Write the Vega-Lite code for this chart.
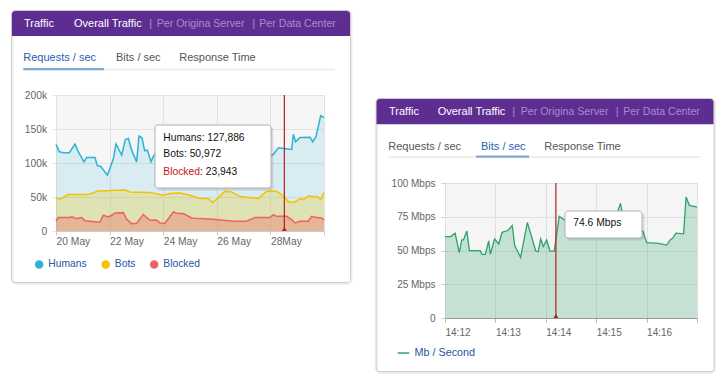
{
"$schema": "https://vega.github.io/schema/vega-lite/v6.json",
"padding": 0,
"autosize": {"type": "pad"},
"background": "white",
"config": {"view": {"stroke": null}, "font": "Liberation Sans"},
"datasets": {
"one": [{}],
"cursorL": [{"t": "2019-05-28T12:30"}],
"cursorR": [{"t": "2019-05-28T14:14:12"}],
"traffic": [
{"t":"2019-05-20T00:00","s":"Humans","v":127300},
{"t":"2019-05-20T03:00","s":"Humans","v":116500},
{"t":"2019-05-20T06:35","s":"Humans","v":115000},
{"t":"2019-05-20T12:00","s":"Humans","v":115200},
{"t":"2019-05-20T17:00","s":"Humans","v":127800},
{"t":"2019-05-20T20:00","s":"Humans","v":116400},
{"t":"2019-05-21T01:05","s":"Humans","v":101700},
{"t":"2019-05-21T03:28","s":"Humans","v":108000},
{"t":"2019-05-21T10:55","s":"Humans","v":108100},
{"t":"2019-05-21T13:00","s":"Humans","v":95800},
{"t":"2019-05-21T16:00","s":"Humans","v":95300},
{"t":"2019-05-21T22:00","s":"Humans","v":82000},
{"t":"2019-05-22T01:00","s":"Humans","v":95200},
{"t":"2019-05-22T03:20","s":"Humans","v":105700},
{"t":"2019-05-22T05:44","s":"Humans","v":127900},
{"t":"2019-05-22T10:50","s":"Humans","v":111500},
{"t":"2019-05-22T14:05","s":"Humans","v":134600},
{"t":"2019-05-22T16:47","s":"Humans","v":136000},
{"t":"2019-05-22T19:45","s":"Humans","v":118900},
{"t":"2019-05-23T00:14","s":"Humans","v":101700},
{"t":"2019-05-23T02:20","s":"Humans","v":139600},
{"t":"2019-05-23T05:00","s":"Humans","v":137000},
{"t":"2019-05-23T07:24","s":"Humans","v":117900},
{"t":"2019-05-23T09:48","s":"Humans","v":118900},
{"t":"2019-05-23T13:05","s":"Humans","v":101700},
{"t":"2019-05-23T15:46","s":"Humans","v":111500},
{"t":"2019-05-23T22:00","s":"Humans","v":120000},
{"t":"2019-05-24T06:00","s":"Humans","v":112000},
{"t":"2019-05-24T14:00","s":"Humans","v":126000},
{"t":"2019-05-24T22:00","s":"Humans","v":108000},
{"t":"2019-05-25T06:00","s":"Humans","v":118000},
{"t":"2019-05-25T14:00","s":"Humans","v":104000},
{"t":"2019-05-25T22:00","s":"Humans","v":114000},
{"t":"2019-05-26T06:00","s":"Humans","v":122000},
{"t":"2019-05-26T14:00","s":"Humans","v":109000},
{"t":"2019-05-26T22:00","s":"Humans","v":116000},
{"t":"2019-05-27T06:00","s":"Humans","v":104000},
{"t":"2019-05-27T14:00","s":"Humans","v":113000},
{"t":"2019-05-27T20:00","s":"Humans","v":107000},
{"t":"2019-05-28T02:37","s":"Humans","v":112500},
{"t":"2019-05-28T07:06","s":"Humans","v":122400},
{"t":"2019-05-28T11:35","s":"Humans","v":121400},
{"t":"2019-05-28T19:03","s":"Humans","v":119900},
{"t":"2019-05-28T20:33","s":"Humans","v":142000},
{"t":"2019-05-28T22:38","s":"Humans","v":131200},
{"t":"2019-05-29T02:30","s":"Humans","v":137600},
{"t":"2019-05-29T11:28","s":"Humans","v":137700},
{"t":"2019-05-29T13:51","s":"Humans","v":131200},
{"t":"2019-05-29T16:50","s":"Humans","v":138600},
{"t":"2019-05-29T21:00","s":"Humans","v":169500},
{"t":"2019-05-30T00:00","s":"Humans","v":166600},
{"t":"2019-05-20T00:00","s":"Bots","v":48600},
{"t":"2019-05-20T03:35","s":"Bots","v":46700},
{"t":"2019-05-20T11:03","s":"Bots","v":53600},
{"t":"2019-05-21T04:57","s":"Bots","v":53600},
{"t":"2019-05-21T13:55","s":"Bots","v":59000},
{"t":"2019-05-22T13:48","s":"Bots","v":60400},
{"t":"2019-05-22T18:16","s":"Bots","v":57500},
{"t":"2019-05-23T12:10","s":"Bots","v":56500},
{"t":"2019-05-24T00:07","s":"Bots","v":52600},
{"t":"2019-05-24T06:06","s":"Bots","v":55000},
{"t":"2019-05-24T15:03","s":"Bots","v":56000},
{"t":"2019-05-25T00:00","s":"Bots","v":52600},
{"t":"2019-05-25T08:57","s":"Bots","v":47700},
{"t":"2019-05-25T16:25","s":"Bots","v":47700},
{"t":"2019-05-25T20:18","s":"Bots","v":41800},
{"t":"2019-05-26T01:22","s":"Bots","v":49100},
{"t":"2019-05-26T07:20","s":"Bots","v":58500},
{"t":"2019-05-26T13:19","s":"Bots","v":57500},
{"t":"2019-05-26T20:47","s":"Bots","v":50600},
{"t":"2019-05-27T13:12","s":"Bots","v":47700},
{"t":"2019-05-27T20:40","s":"Bots","v":58500},
{"t":"2019-05-28T05:37","s":"Bots","v":58500},
{"t":"2019-05-28T13:05","s":"Bots","v":50100},
{"t":"2019-05-28T16:03","s":"Bots","v":42800},
{"t":"2019-05-28T22:02","s":"Bots","v":42800},
{"t":"2019-05-29T02:30","s":"Bots","v":47700},
{"t":"2019-05-29T05:29","s":"Bots","v":46200},
{"t":"2019-05-29T09:58","s":"Bots","v":51600},
{"t":"2019-05-29T18:56","s":"Bots","v":50100},
{"t":"2019-05-29T21:00","s":"Bots","v":46200},
{"t":"2019-05-30T00:00","s":"Bots","v":56500},
{"t":"2019-05-20T00:00","s":"Blocked","v":14700},
{"t":"2019-05-20T02:05","s":"Blocked","v":19700},
{"t":"2019-05-20T12:32","s":"Blocked","v":19700},
{"t":"2019-05-20T14:02","s":"Blocked","v":21100},
{"t":"2019-05-20T18:30","s":"Blocked","v":18200},
{"t":"2019-05-20T22:59","s":"Blocked","v":19700},
{"t":"2019-05-21T01:58","s":"Blocked","v":15200},
{"t":"2019-05-21T15:24","s":"Blocked","v":12800},
{"t":"2019-05-21T18:23","s":"Blocked","v":23100},
{"t":"2019-05-21T22:52","s":"Blocked","v":20600},
{"t":"2019-05-22T01:51","s":"Blocked","v":23100},
{"t":"2019-05-22T04:50","s":"Blocked","v":26500},
{"t":"2019-05-22T12:17","s":"Blocked","v":27000},
{"t":"2019-05-22T15:16","s":"Blocked","v":17200},
{"t":"2019-05-22T19:45","s":"Blocked","v":10800},
{"t":"2019-05-23T00:14","s":"Blocked","v":11300},
{"t":"2019-05-23T06:13","s":"Blocked","v":24100},
{"t":"2019-05-23T12:10","s":"Blocked","v":15700},
{"t":"2019-05-23T18:09","s":"Blocked","v":16200},
{"t":"2019-05-23T21:08","s":"Blocked","v":11800},
{"t":"2019-05-24T01:37","s":"Blocked","v":11300},
{"t":"2019-05-24T09:04","s":"Blocked","v":28000},
{"t":"2019-05-24T13:33","s":"Blocked","v":25600},
{"t":"2019-05-24T18:01","s":"Blocked","v":25600},
{"t":"2019-05-25T01:29","s":"Blocked","v":19200},
{"t":"2019-05-25T08:57","s":"Blocked","v":18200},
{"t":"2019-05-25T20:54","s":"Blocked","v":17200},
{"t":"2019-05-26T05:51","s":"Blocked","v":15700},
{"t":"2019-05-26T14:48","s":"Blocked","v":14300},
{"t":"2019-05-27T02:44","s":"Blocked","v":14300},
{"t":"2019-05-27T10:12","s":"Blocked","v":19700},
{"t":"2019-05-27T23:38","s":"Blocked","v":19700},
{"t":"2019-05-28T02:37","s":"Blocked","v":24100},
{"t":"2019-05-28T05:37","s":"Blocked","v":21600},
{"t":"2019-05-28T14:34","s":"Blocked","v":21600},
{"t":"2019-05-28T19:03","s":"Blocked","v":16700},
{"t":"2019-05-28T22:02","s":"Blocked","v":11800},
{"t":"2019-05-29T02:30","s":"Blocked","v":14300},
{"t":"2019-05-29T09:58","s":"Blocked","v":14300},
{"t":"2019-05-29T12:57","s":"Blocked","v":21600},
{"t":"2019-05-29T17:25","s":"Blocked","v":19700},
{"t":"2019-05-29T21:55","s":"Blocked","v":19200},
{"t":"2019-05-30T00:00","s":"Blocked","v":15700}
],
"mbps": [
{"t":"2019-05-28T14:12:00","s":"Mb / Second","v":60.3},
{"t":"2019-05-28T14:12:07","s":"Mb / Second","v":60.3},
{"t":"2019-05-28T14:12:12","s":"Mb / Second","v":62.8},
{"t":"2019-05-28T14:12:17","s":"Mb / Second","v":48.4},
{"t":"2019-05-28T14:12:20","s":"Mb / Second","v":57.8},
{"t":"2019-05-28T14:12:22","s":"Mb / Second","v":57.8},
{"t":"2019-05-28T14:12:26","s":"Mb / Second","v":64.5},
{"t":"2019-05-28T14:12:29","s":"Mb / Second","v":49.9},
{"t":"2019-05-28T14:12:42","s":"Mb / Second","v":49.9},
{"t":"2019-05-28T14:12:44","s":"Mb / Second","v":47.1},
{"t":"2019-05-28T14:12:48","s":"Mb / Second","v":47.1},
{"t":"2019-05-28T14:12:52","s":"Mb / Second","v":57.1},
{"t":"2019-05-28T14:12:54","s":"Mb / Second","v":47.1},
{"t":"2019-05-28T14:12:59","s":"Mb / Second","v":58.6},
{"t":"2019-05-28T14:13:04","s":"Mb / Second","v":54.8},
{"t":"2019-05-28T14:13:08","s":"Mb / Second","v":63.5},
{"t":"2019-05-28T14:13:15","s":"Mb / Second","v":64.8},
{"t":"2019-05-28T14:13:20","s":"Mb / Second","v":68.5},
{"t":"2019-05-28T14:13:23","s":"Mb / Second","v":53.6},
{"t":"2019-05-28T14:13:30","s":"Mb / Second","v":44.9},
{"t":"2019-05-28T14:13:38","s":"Mb / Second","v":70.7},
{"t":"2019-05-28T14:13:44","s":"Mb / Second","v":58.3},
{"t":"2019-05-28T14:13:48","s":"Mb / Second","v":49.6},
{"t":"2019-05-28T14:13:51","s":"Mb / Second","v":49.1},
{"t":"2019-05-28T14:13:54","s":"Mb / Second","v":58.6},
{"t":"2019-05-28T14:13:57","s":"Mb / Second","v":52.9},
{"t":"2019-05-28T14:14:01","s":"Mb / Second","v":57.8},
{"t":"2019-05-28T14:14:05","s":"Mb / Second","v":49.6},
{"t":"2019-05-28T14:14:10","s":"Mb / Second","v":49.6},
{"t":"2019-05-28T14:14:16","s":"Mb / Second","v":75.2},
{"t":"2019-05-28T14:14:22","s":"Mb / Second","v":72.7},
{"t":"2019-05-28T14:14:30","s":"Mb / Second","v":71},
{"t":"2019-05-28T14:14:38","s":"Mb / Second","v":75},
{"t":"2019-05-28T14:14:46","s":"Mb / Second","v":69},
{"t":"2019-05-28T14:14:54","s":"Mb / Second","v":73},
{"t":"2019-05-28T14:15:02","s":"Mb / Second","v":67},
{"t":"2019-05-28T14:15:10","s":"Mb / Second","v":71},
{"t":"2019-05-28T14:15:18","s":"Mb / Second","v":74},
{"t":"2019-05-28T14:15:25","s":"Mb / Second","v":78},
{"t":"2019-05-28T14:15:29","s":"Mb / Second","v":85},
{"t":"2019-05-28T14:15:31","s":"Mb / Second","v":77},
{"t":"2019-05-28T14:15:40","s":"Mb / Second","v":71},
{"t":"2019-05-28T14:15:48","s":"Mb / Second","v":67},
{"t":"2019-05-28T14:15:56","s":"Mb / Second","v":64},
{"t":"2019-05-28T14:16:00","s":"Mb / Second","v":55.8},
{"t":"2019-05-28T14:16:14","s":"Mb / Second","v":55.3},
{"t":"2019-05-28T14:16:24","s":"Mb / Second","v":54},
{"t":"2019-05-28T14:16:28","s":"Mb / Second","v":57.8},
{"t":"2019-05-28T14:16:31","s":"Mb / Second","v":59},
{"t":"2019-05-28T14:16:35","s":"Mb / Second","v":62.8},
{"t":"2019-05-28T14:16:44","s":"Mb / Second","v":62.3},
{"t":"2019-05-28T14:16:47","s":"Mb / Second","v":89.6},
{"t":"2019-05-28T14:16:51","s":"Mb / Second","v":83.4},
{"t":"2019-05-28T14:17:00","s":"Mb / Second","v":82.1}
]
},
"spacing": 121,
"bounds": "flush",
"resolve": {"scale": {"x": "independent", "y": "independent", "fill": "independent", "stroke": "independent", "fillOpacity": "independent"}, "legend": {"fill": "independent", "stroke": "independent"}},
"hconcat": [
{
"width": 268, "height": 136,
"view": {"fill": "#f6f6f6", "stroke": null},
"layer": [
{"data": {"name": "one"}, "mark": {"type": "rect", "x": -56, "x2": 672, "y": -95, "y2": 285, "opacity": 0}},
{"data": {"name": "one"}, "mark": {"type": "rect", "x": -43.5, "x2": 295.5, "y": -83.5, "y2": 189, "fill": "transparent", "stroke": "#000000", "strokeOpacity": 0.07, "strokeWidth": 2, "cornerRadius": 4}},
{"data": {"name": "one"}, "mark": {"type": "rect", "x": -44.5, "x2": 294.5, "y": -84.5, "y2": 187.5, "fill": "transparent", "stroke": "#cdcdcd", "strokeWidth": 1, "cornerRadius": 3}},
{"data": {"name": "one"}, "mark": {"type": "rect", "x": -44, "x2": 294, "y": -84, "y2": -59, "fill": "#5e2d91", "cornerRadiusTopLeft": 3, "cornerRadiusTopRight": 3}},
{"data": {"name": "one"}, "mark": {"type": "text", "text": "Traffic", "x": -32, "y": -71.5, "align": "left", "baseline": "middle", "fontSize": 11, "color": "#ffffff", "font": "Liberation Sans"}},
{"data": {"name": "one"}, "mark": {"type": "text", "text": "Overall Traffic", "x": 18, "y": -71.5, "align": "left", "baseline": "middle", "fontSize": 11, "color": "#ffffff", "font": "Liberation Sans"}},
{"data": {"name": "one"}, "mark": {"type": "text", "text": "|", "x": 93.3, "y": -71.5, "align": "left", "baseline": "middle", "fontSize": 11, "color": "#a58dcc", "font": "Liberation Sans"}},
{"data": {"name": "one"}, "mark": {"type": "text", "text": "Per Origina Server", "x": 100.7, "y": -71.5, "align": "left", "baseline": "middle", "fontSize": 10.6, "color": "#a58dcc", "font": "Liberation Sans"}},
{"data": {"name": "one"}, "mark": {"type": "text", "text": "|", "x": 196.3, "y": -71.5, "align": "left", "baseline": "middle", "fontSize": 11, "color": "#a58dcc", "font": "Liberation Sans"}},
{"data": {"name": "one"}, "mark": {"type": "text", "text": "Per Data Center", "x": 203.3, "y": -71.5, "align": "left", "baseline": "middle", "fontSize": 10.6, "color": "#a58dcc", "font": "Liberation Sans"}},
{"data": {"name": "one"}, "mark": {"type": "text", "text": "Requests / sec", "x": -32.7, "y": -36.7, "align": "left", "baseline": "middle", "fontSize": 11, "color": "#2b5fae", "font": "Liberation Sans"}},
{"data": {"name": "one"}, "mark": {"type": "text", "text": "Bits / sec", "x": 60, "y": -36.7, "align": "left", "baseline": "middle", "fontSize": 11, "color": "#555555", "font": "Liberation Sans"}},
{"data": {"name": "one"}, "mark": {"type": "text", "text": "Response Time", "x": 123.3, "y": -36.7, "align": "left", "baseline": "middle", "fontSize": 11, "color": "#555555", "font": "Liberation Sans"}},
{"data": {"name": "one"}, "mark": {"type": "rect", "x": -32.7, "x2": 279, "y": -26.5, "y2": -24.5, "fill": "#eeeeee"}},
{"data": {"name": "one"}, "mark": {"type": "rect", "x": -32.7, "x2": 48, "y": -27, "y2": -24.8, "fill": "#82a9d4"}},
{"data": {"name": "traffic"}, "mark": {"type": "area"},
 "encoding": {
  "x": {"field": "t", "type": "temporal",
        "scale": {"domain": [{"year": 2019, "month": 5, "date": 20}, {"year": 2019, "month": 5, "date": 30}], "nice": false},
        "axis": {"title": null, "values": [{"year": 2019, "month": 5, "date": 20}, {"year": 2019, "month": 5, "date": 22}, {"year": 2019, "month": 5, "date": 24}, {"year": 2019, "month": 5, "date": 26}, {"year": 2019, "month": 5, "date": 28}, {"year": 2019, "month": 5, "date": 30}],
                 "labelExpr": "date(datum.value) == 30 ? '' : (date(datum.value) == 28 ? '28May' : timeFormat(datum.value, '%d May'))",
                 "labelAlign": "left", "labelPadding": 1.5, "labelFontSize": 10.3, "labelColor": "#666666", "labelFont": "Liberation Sans", "labelOverlap": false, "labelFlush": false, "labelBound": false,
                 "tickSize": 4, "tickColor": "#cccccc", "domainColor": "#cccccc", "gridColor": "#e2e2e2", "grid": true}},
  "y": {"field": "v", "type": "quantitative", "stack": null,
        "scale": {"domain": [0, 200000], "nice": false},
        "axis": {"title": null, "values": [0, 50000, 100000, 150000, 200000], "tickCount": 5,
                 "labelExpr": "datum.value == 0 ? '0' : (datum.value / 1000) + 'k'",
                 "labelPadding": 5.3, "labelFontSize": 10.3, "labelColor": "#666666", "labelFont": "Liberation Sans", "labelOverlap": false, "labelFlush": false, "labelBound": false,
                 "tickSize": 4, "tickColor": "#e2e2e2", "domain": false, "gridColor": "#e2e2e2", "grid": true}},
  "fill": {"field": "s", "type": "nominal",
           "scale": {"domain": ["Humans", "Bots", "Blocked"], "range": ["#2fb2d4", "#f5c200", "#f06262"]},
           "legend": {"orient": "none", "legendX": -22, "legendY": 164, "direction": "horizontal", "title": null,
                      "symbolType": "circle", "symbolSize": 72, "symbolStrokeWidth": 0, "symbolOpacity": 1,
                      "labelFont": "Liberation Sans", "labelFontSize": 10.3, "labelColor": "#2a52a6", "labelOffset": 4,
                      "columnPadding": 13.5, "padding": 0,
                      "encode": {"symbols": {"update": {"fillOpacity": {"value": 1}}}}}},
  "fillOpacity": {"field": "s", "type": "nominal", "scale": {"domain": ["Humans", "Bots", "Blocked"], "range": [0.15, 0.35, 0.12]}, "legend": null}
 }},
{"data": {"name": "traffic"}, "mark": {"type": "line", "strokeWidth": 1.5},
 "encoding": {
  "x": {"field": "t", "type": "temporal"},
  "y": {"field": "v", "type": "quantitative",
        "axis": {"title": null, "values": [0, 50000, 100000, 150000, 200000], "tickCount": 5,
                 "labelExpr": "datum.value == 0 ? '0' : (datum.value / 1000) + 'k'",
                 "labelPadding": 5.3, "labelFontSize": 10.3, "labelColor": "#666666", "labelFont": "Liberation Sans", "labelOverlap": false, "labelFlush": false, "labelBound": false,
                 "tickSize": 4, "tickColor": "#e2e2e2", "domain": false, "gridColor": "#e2e2e2", "grid": true}},
  "stroke": {"field": "s", "type": "nominal", "scale": {"domain": ["Humans", "Bots", "Blocked"], "range": ["#2fb2d4", "#f5c200", "#f06262"]}, "legend": null}
 }},
{"data": {"name": "cursorL"}, "mark": {"type": "rule", "color": "#b52020", "strokeWidth": 1.2},
 "encoding": {"x": {"field": "t", "type": "temporal"}}},
{"data": {"name": "cursorL"}, "mark": {"type": "point", "shape": "triangle-up", "filled": true, "color": "#b52020", "size": 24, "opacity": 1, "y": "height", "yOffset": -2},
 "encoding": {"x": {"field": "t", "type": "temporal"}}},
{"data": {"name": "one"}, "mark": {"type": "rect", "x": 101, "x2": 217.5, "y": 32, "y2": 95.5, "fill": "#000000", "opacity": 0.1, "cornerRadius": 3}},
{"data": {"name": "one"}, "mark": {"type": "rect", "x": 99, "x2": 215, "y": 30, "y2": 93, "fill": "#ffffff", "stroke": "#b0b0b0", "strokeWidth": 1, "cornerRadius": 3}},
{"data": {"name": "one"}, "mark": {"type": "text", "text": "Humans: 127,886", "x": 107.3, "y": 43.3, "align": "left", "baseline": "middle", "fontSize": 10.3, "color": "#111111", "font": "Liberation Sans"}},
{"data": {"name": "one"}, "mark": {"type": "text", "text": "Bots: 50,972", "x": 107.3, "y": 59.3, "align": "left", "baseline": "middle", "fontSize": 10.3, "color": "#111111", "font": "Liberation Sans"}},
{"data": {"name": "one"}, "mark": {"type": "text", "text": "Blocked", "x": 107.3, "y": 76.7, "align": "left", "baseline": "middle", "fontSize": 10.3, "color": "#cc1111", "font": "Liberation Sans"}},
{"data": {"name": "one"}, "mark": {"type": "text", "text": ": 23,943", "x": 144, "y": 76.7, "align": "left", "baseline": "middle", "fontSize": 10.3, "color": "#111111", "font": "Liberation Sans"}}
]
},
{
"vconcat": [
{"width": 252, "height": 88, "data": {"values": []}, "mark": "point", "view": {"fill": null, "stroke": null}},
{
"width": 252, "height": 135,
"view": {"fill": "#f5f5f5", "stroke": null},
"layer": [
{"data": {"name": "one"}, "mark": {"type": "rect", "x": -68, "x2": 270, "y": -83.5, "y2": 190, "fill": "transparent", "stroke": "#000000", "strokeOpacity": 0.07, "strokeWidth": 2, "cornerRadius": 4}},
{"data": {"name": "one"}, "mark": {"type": "rect", "x": -69, "x2": 269, "y": -84.5, "y2": 188.5, "fill": "transparent", "stroke": "#cdcdcd", "strokeWidth": 1, "cornerRadius": 3}},
{"data": {"name": "one"}, "mark": {"type": "rect", "x": -68.5, "x2": 268.5, "y": -84, "y2": -58.7, "fill": "#5e2d91", "cornerRadiusTopLeft": 3, "cornerRadiusTopRight": 3}},
{"data": {"name": "one"}, "mark": {"type": "text", "text": "Traffic", "x": -56, "y": -71.3, "align": "left", "baseline": "middle", "fontSize": 11, "color": "#ffffff", "font": "Liberation Sans"}},
{"data": {"name": "one"}, "mark": {"type": "text", "text": "Overall Traffic", "x": -7.3, "y": -71.3, "align": "left", "baseline": "middle", "fontSize": 11, "color": "#ffffff", "font": "Liberation Sans"}},
{"data": {"name": "one"}, "mark": {"type": "text", "text": "|", "x": 67.3, "y": -71.3, "align": "left", "baseline": "middle", "fontSize": 11, "color": "#a58dcc", "font": "Liberation Sans"}},
{"data": {"name": "one"}, "mark": {"type": "text", "text": "Per Origina Server", "x": 75.7, "y": -71.3, "align": "left", "baseline": "middle", "fontSize": 10.6, "color": "#a58dcc", "font": "Liberation Sans"}},
{"data": {"name": "one"}, "mark": {"type": "text", "text": "|", "x": 170.7, "y": -71.3, "align": "left", "baseline": "middle", "fontSize": 11, "color": "#a58dcc", "font": "Liberation Sans"}},
{"data": {"name": "one"}, "mark": {"type": "text", "text": "Per Data Center", "x": 178.3, "y": -71.3, "align": "left", "baseline": "middle", "fontSize": 10.6, "color": "#a58dcc", "font": "Liberation Sans"}},
{"data": {"name": "one"}, "mark": {"type": "text", "text": "Requests / sec", "x": -56.7, "y": -36.3, "align": "left", "baseline": "middle", "fontSize": 11, "color": "#555555", "font": "Liberation Sans"}},
{"data": {"name": "one"}, "mark": {"type": "text", "text": "Bits / sec", "x": 36, "y": -36.3, "align": "left", "baseline": "middle", "fontSize": 11, "color": "#2b5fae", "font": "Liberation Sans"}},
{"data": {"name": "one"}, "mark": {"type": "text", "text": "Response Time", "x": 99.3, "y": -36.3, "align": "left", "baseline": "middle", "fontSize": 11, "color": "#555555", "font": "Liberation Sans"}},
{"data": {"name": "one"}, "mark": {"type": "rect", "x": -56.7, "x2": 255, "y": -27, "y2": -25, "fill": "#eeeeee"}},
{"data": {"name": "one"}, "mark": {"type": "rect", "x": 31, "x2": 84, "y": -27.5, "y2": -25.3, "fill": "#82a9d4"}},
{"data": {"name": "mbps"}, "mark": {"type": "area", "fill": "#2ea36a", "fillOpacity": 0.24},
 "encoding": {
  "x": {"field": "t", "type": "temporal",
        "scale": {"domain": [{"year": 2019, "month": 5, "date": 28, "hours": 14, "minutes": 12}, {"year": 2019, "month": 5, "date": 28, "hours": 14, "minutes": 17}], "nice": false},
        "axis": {"title": null, "values": [{"year": 2019, "month": 5, "date": 28, "hours": 14, "minutes": 12}, {"year": 2019, "month": 5, "date": 28, "hours": 14, "minutes": 13}, {"year": 2019, "month": 5, "date": 28, "hours": 14, "minutes": 14}, {"year": 2019, "month": 5, "date": 28, "hours": 14, "minutes": 15}, {"year": 2019, "month": 5, "date": 28, "hours": 14, "minutes": 16}, {"year": 2019, "month": 5, "date": 28, "hours": 14, "minutes": 17}],
                 "labelExpr": "minutes(datum.value) == 17 ? '' : timeFormat(datum.value, '%H:%M')",
                 "labelAlign": "left", "labelPadding": 4.5, "labelFontSize": 10, "labelColor": "#666666", "labelFont": "Liberation Sans", "labelOverlap": false, "labelFlush": false, "labelBound": false,
                 "tickSize": 4.5, "tickColor": "#bbbbbb", "domainColor": "#9a9a9a", "gridColor": "#e0e0e0", "grid": true}},
  "y": {"field": "v", "type": "quantitative",
        "scale": {"domain": [0, 100], "nice": false},
        "axis": {"title": null, "values": [0, 25, 50, 75, 100], "tickCount": 5,
                 "labelExpr": "datum.value == 0 ? '0' : datum.value + ' Mbps'",
                 "labelPadding": 6, "labelFontSize": 10, "labelColor": "#666666", "labelFont": "Liberation Sans", "labelOverlap": false, "labelFlush": false, "labelBound": false,
                 "tickSize": 4, "tickColor": "#cccccc", "domain": false, "gridColor": "#e0e0e0", "grid": true}}
 }},
{"data": {"name": "mbps"}, "mark": {"type": "line", "strokeWidth": 1.3},
 "encoding": {
  "x": {"field": "t", "type": "temporal"},
  "y": {"field": "v", "type": "quantitative",
        "axis": {"title": null, "values": [0, 25, 50, 75, 100], "tickCount": 5,
                 "labelExpr": "datum.value == 0 ? '0' : datum.value + ' Mbps'",
                 "labelPadding": 6, "labelFontSize": 10, "labelColor": "#666666", "labelFont": "Liberation Sans", "labelOverlap": false, "labelFlush": false, "labelBound": false,
                 "tickSize": 4, "tickColor": "#cccccc", "domain": false, "gridColor": "#e0e0e0", "grid": true}},
  "stroke": {"field": "s", "type": "nominal", "scale": {"range": ["#2ea36a"]},
             "legend": {"orient": "none", "legendX": -48.5, "legendY": 163, "title": null,
                        "symbolType": "stroke", "symbolSize": 135, "symbolStrokeWidth": 1.5,
                        "labelFont": "Liberation Sans", "labelFontSize": 10.8, "labelColor": "#2a52a6", "labelOffset": 4, "padding": 0}}
 }},
{"data": {"name": "cursorR"}, "mark": {"type": "rule", "color": "#b52020", "strokeWidth": 1.2},
 "encoding": {"x": {"field": "t", "type": "temporal"}}},
{"data": {"name": "cursorR"}, "mark": {"type": "point", "shape": "triangle-up", "filled": true, "color": "#b52020", "size": 24, "opacity": 1, "y": "height", "yOffset": -2},
 "encoding": {"x": {"field": "t", "type": "temporal"}}},
{"data": {"name": "one"}, "mark": {"type": "rect", "x": 122, "x2": 199.5, "y": 30, "y2": 57.5, "fill": "#000000", "opacity": 0.1, "cornerRadius": 3}},
{"data": {"name": "one"}, "mark": {"type": "rect", "x": 120, "x2": 197, "y": 28, "y2": 55, "fill": "#ffffff", "stroke": "#b0b0b0", "strokeWidth": 1, "cornerRadius": 3}},
{"data": {"name": "one"}, "mark": {"type": "text", "text": "74.6 Mbps", "x": 128.3, "y": 40.3, "align": "left", "baseline": "middle", "fontSize": 10.3, "color": "#111111", "font": "Liberation Sans"}}
]
}
],
"spacing": 0,
"bounds": "flush",
"resolve": {"scale": {"stroke": "independent"}, "legend": {"stroke": "independent"}}
}
]
}
